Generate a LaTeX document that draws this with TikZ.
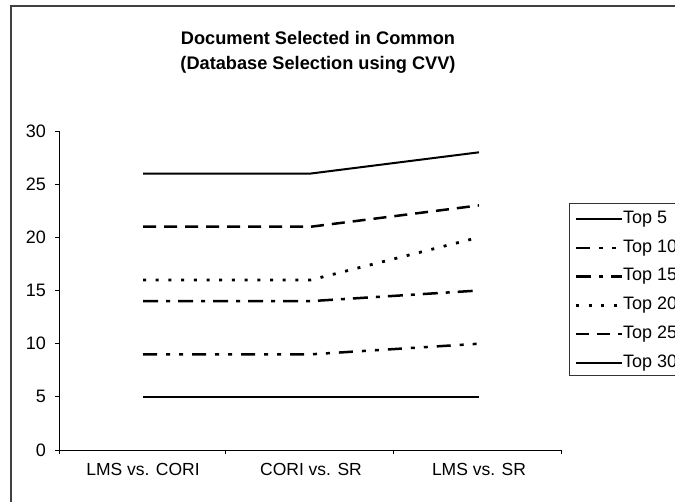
\documentclass[tikz,border=0pt]{standalone}
\usepackage{fontspec}
\setmainfont{Liberation Sans}
\begin{document}
\begin{tikzpicture}[x=1pt,y=-1pt,
  axisline/.style={line width=1pt,black},
  series/.style={line width=2.5pt,black},
  ttop5/.style={series},
  ttop10/.style={series,dash pattern=on 14pt off 9pt on 4pt off 9pt on 4pt off 9pt},
  ttop15/.style={series,dash pattern=on 15pt off 8pt on 4pt off 8pt},
  ttop20/.style={series,line width=2.8pt,dash pattern=on 3pt off 9.7pt},
  ttop25/.style={series,dash pattern=on 13pt off 8pt},
  ttop30/.style={series,line width=2pt},
  ticklab/.style={anchor=east,inner sep=0pt,font=\fontsize{18}{20}\selectfont},
  catlab/.style={inner sep=0pt,font=\fontsize{17.5}{20}\selectfont},
  leglab/.style={anchor=west,inner sep=0pt,font=\fontsize{18}{20}\selectfont},
  titlelab/.style={inner sep=0pt,font=\bfseries\fontsize{18.2}{25}\selectfont,align=center}
]
\clip (0,0) rectangle (675,501);
\fill[white] (0,0) rectangle (675,501);
% outer frame
\draw[line width=1.2pt,black!75] (11,520) -- (11,6) -- (690,6);
% title
\node[titlelab] (title) at (318,52) {Document Selected in Common\\(Database Selection using CVV)};
% axes
\coordinate (o) at (59,450);
\coordinate (ytop) at (59,131);
\coordinate (xend) at (561,450);
\draw[axisline] (ytop) -- (o) -- (xend);
% y ticks and labels
\foreach \v in {0,5,...,30}{
  \pgfmathsetmacro{\yy}{450-10.633*\v}
  \draw[axisline] (55,\yy) -- (59,\yy);
  \node[ticklab] (yl\v) at (46,\yy) {\v};
}
% x ticks
\foreach \xx in {59,225,393,561}{
  \draw[axisline] (\xx,450) -- (\xx,454);
}
\node[catlab] (c1) at (143,469) {LMS vs. CORI};
\node[catlab] (c2) at (311,469) {CORI vs. SR};
\node[catlab] (c3) at (479,469) {LMS vs. SR};
% series
\draw[ttop5]  (143,396.8) -- (311,396.8) -- (479,396.8);
\draw[ttop10] (143,354.3) -- (311,354.3) -- (479,343.7);
\draw[ttop15] (143,301.1) -- (311,301.1) -- (479,290.5);
\draw[ttop20] (143,279.9) -- (311,279.9) -- (479,237.3);
\draw[ttop25] (143,226.7) -- (311,226.7) -- (479,205.4);
\draw[ttop30] (143,173.5) -- (311,173.5) -- (479,152.3);
% legend
\draw[line width=1pt,black!80] (690,203) -- (569,203) -- (569,375) -- (690,375);
\foreach \n/\s [count=\i from 0] in {5/ttop5,10/ttop10,15/ttop15,20/ttop20,25/ttop25,30/ttop30}{
  \pgfmathsetmacro{\ly}{219+28.8*\i}
  \draw[\s] (576,\ly) -- (622,\ly);
  \node[leglab] (leg\n) at (623,\ly) {Top \n};
}
\end{tikzpicture}
\end{document}
